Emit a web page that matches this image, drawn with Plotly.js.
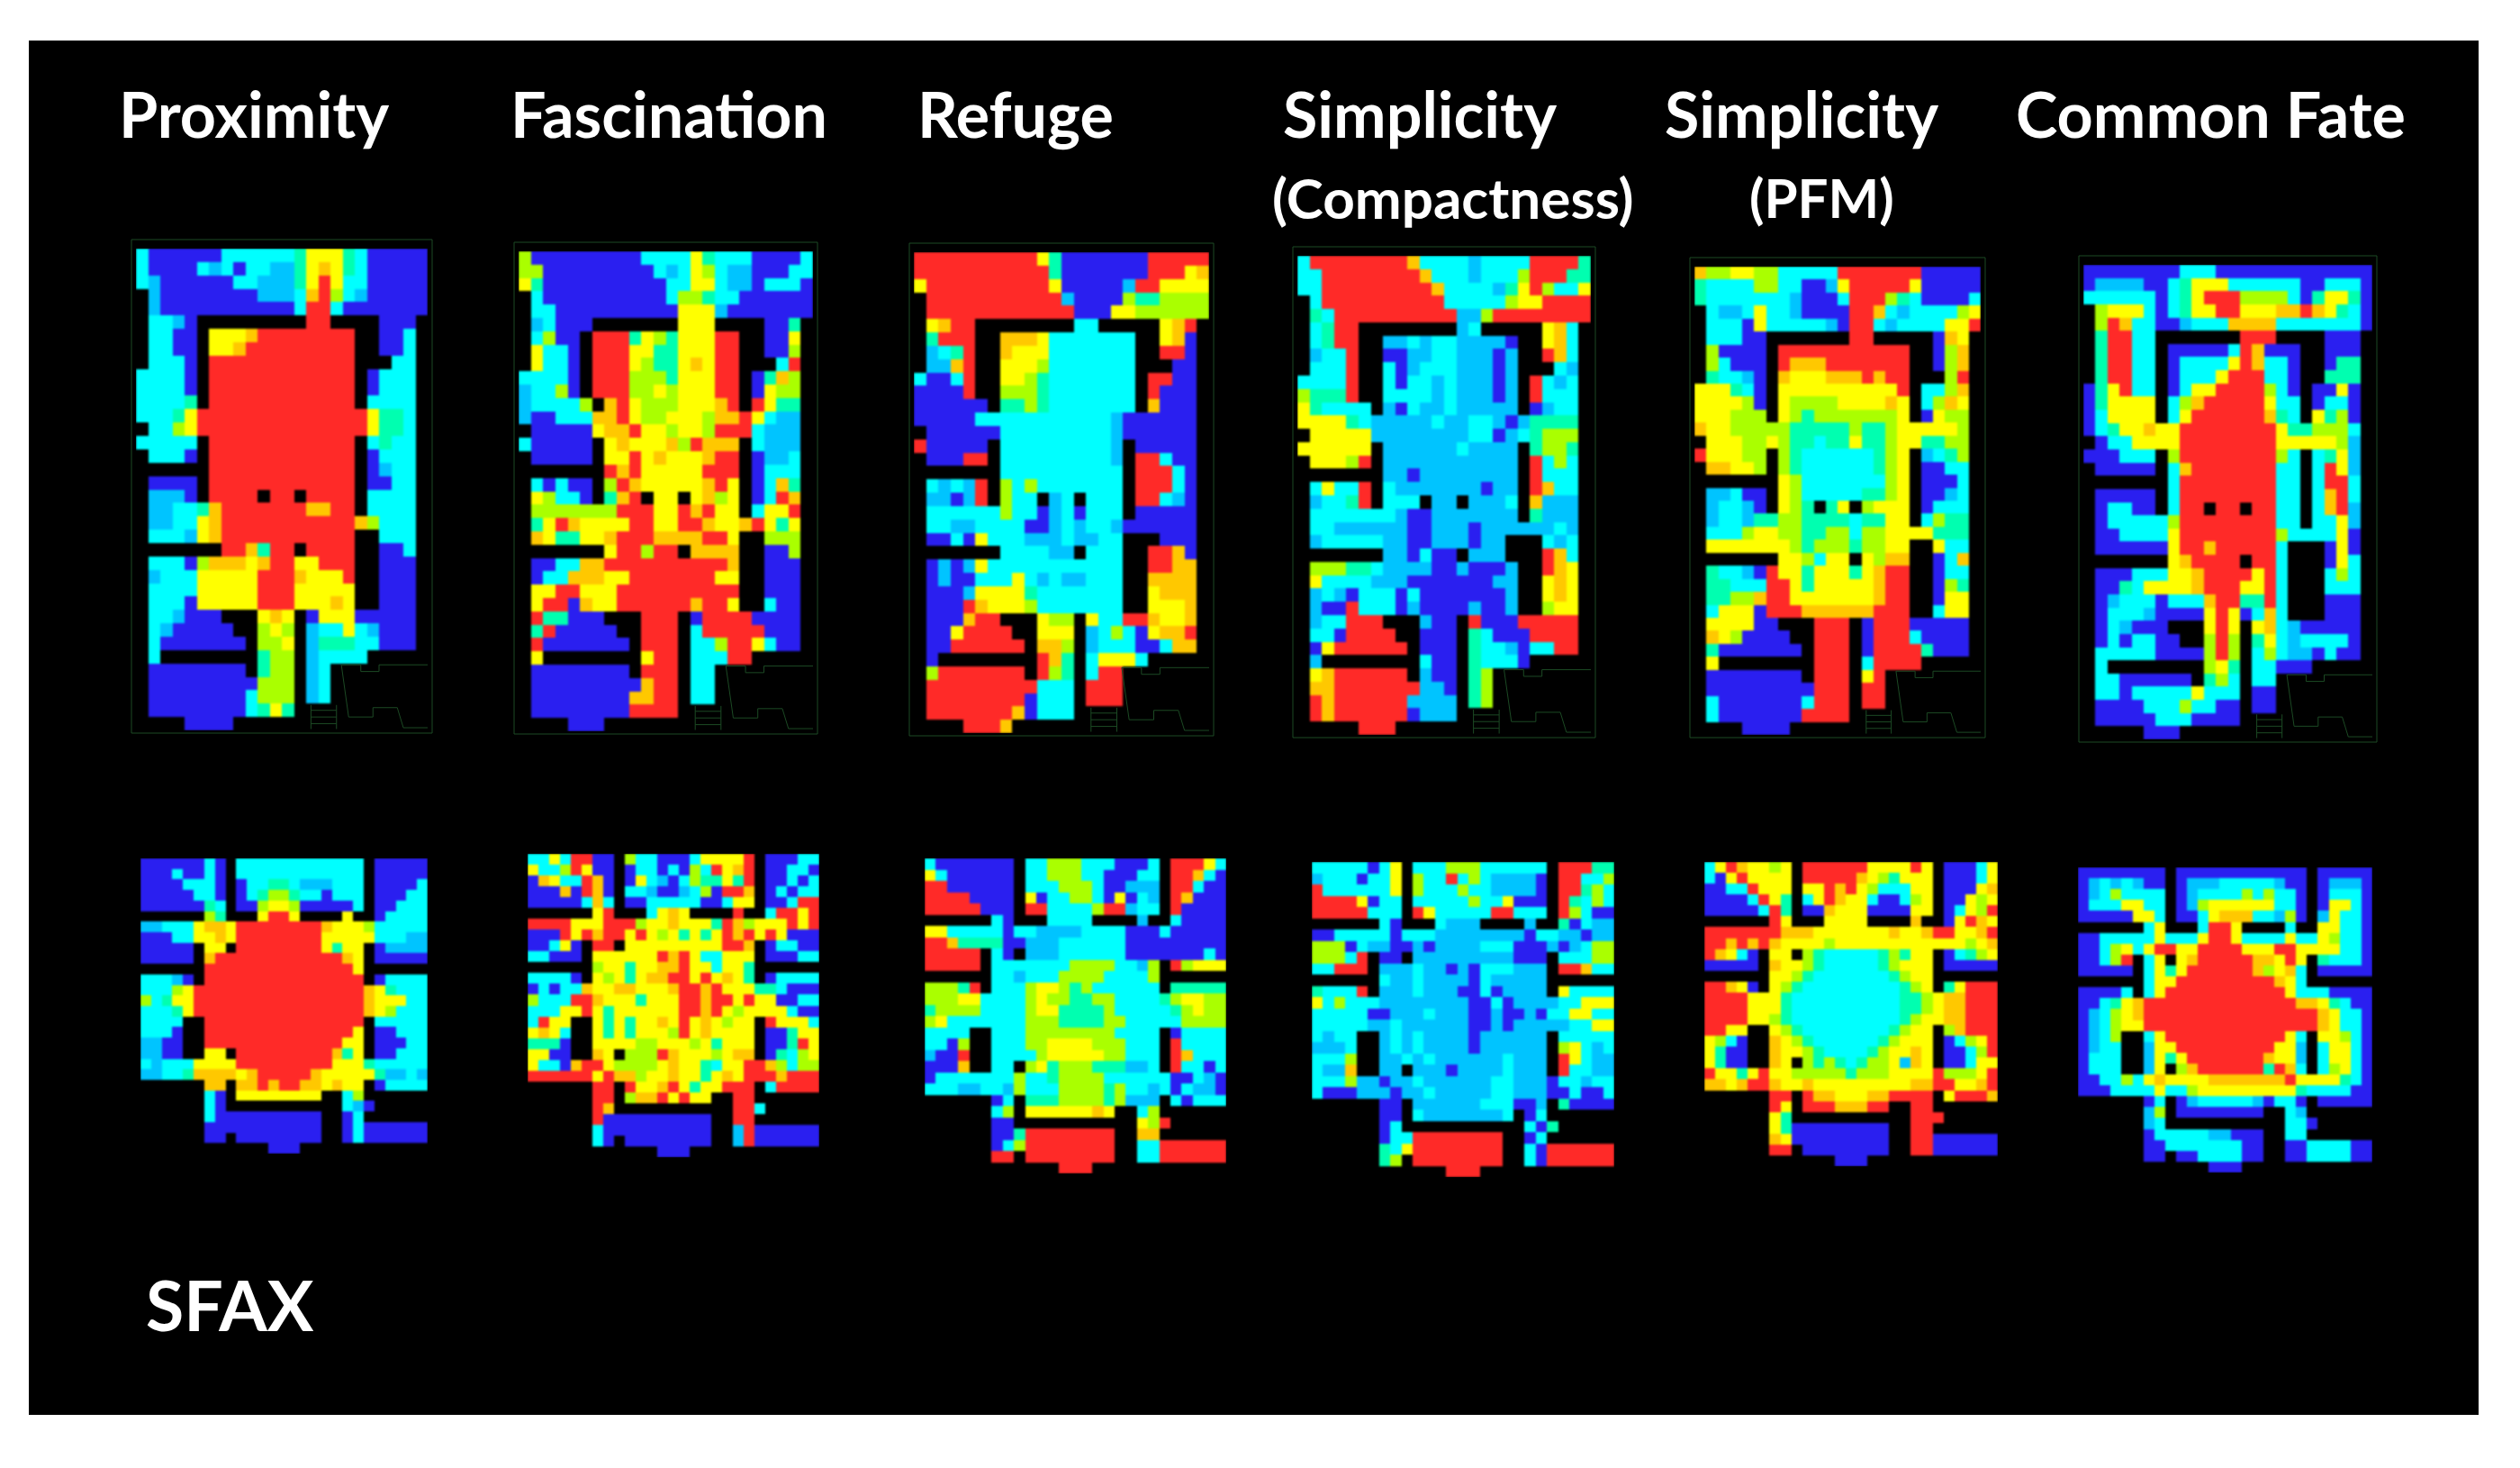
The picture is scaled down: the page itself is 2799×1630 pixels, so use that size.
<!DOCTYPE html>
<html>
<head>
<meta charset="utf-8">
<script src="https://cdn.plot.ly/plotly-3.0.1.min.js"></script>
<style>
  html, body { margin: 0; padding: 0; background: #fff; }
  /* the source maps are soft, scaled-up rasters */
  .heatmaplayer image { filter: blur(0.9px); }
</style>
</head>
<body>
<div id="chart"></div>
<script>
// Cell codes: . wall, b blue, l sky, c cyan, t spring green, g lime, y yellow, o orange, r red
const CODES = ' blctgyor';
const bandColors = ['#2a1ff0', '#00c4ff', '#00ffff', '#00ffb0', '#aaff00', '#ffff00', '#ffc800', '#ff2a28'];

const proximityTop = [
"cbbbbbbcccccctyyytcbbbbb","cbbbbclcbcclltyoytcbbbbb","clbbbbbbccllltyryccbbbbb",".lbbbbbbbblllcorgclbbbbb",
".lbbbbbbbbbbbcrrcbbbbbbb",".cclb.........rr....bbb.",".ccbb.yyyorrrrrrrr..bbc.",".ccbb.yyorrrrrrrrr..bbc.",
".cccb.rrrrrrrrrrrr...cc.","ccccb.rrrrrrrrrrrr.bccc.","ccccb.rrrrrrrrrrrr.bccc.","cccct.rrrrrrrrrrrr.cccc.",
"ccctyrrrrrrrrrrrrrryttc.",".ccgyrrrrrrrrrrrrrryttc.","ccccc.rrrrrrrrrrrr.ctcc.",".cccb.rrrrrrrrrrrr.bccc.",
"......rrrrrrrrrrrr.blcc.",".bbbb.rrrrrrrrrrrr.bbcc.",".lllb.rrrr.rr.rrrr.cccc.",".llcctorrrrrrroorr.cccc.",
".llccyorrrrrrrrrrrogccc.",".ccclyorrrrrrrrrrr..ccc.",".......rrotrr.rrrr..bbc.",".cccbgoooyorryyrrr..bbb.",
".lcccyyyyyrrroyyyr..bbb.",".ccccyyyyyrrryyyyy..bbb.",".cccbyyyyyrrryyyoy..bbb.",".cclbbb...yoy.byyybbbbb.",
".clbbbbb..gyg.lccyclbbb.",".cbbbbbbb.ggy.ltttccbbb.",".c........tgg.lcccc.....",".bbbbbbbb.tgg.lc........",
".bbbbbbbbbggg.lc........",".bbbbbbbbcggg.lc........",".bbbbbbbbctyt...........","....bbbb................"
];
const fascinationTop = [
"gbbbbbbbbbccccytcccbbbbc","ggbbbbbbbbbclcygcllbbbcc","ytbbbbbbbbbbccyycllbcccb",".cbbbbbbbbbbcggtccbbbbbb",
".ccbbbbbbbbbbyyylbbbbbbb",".lcbbb.......yyy....bbt.",".cgbb.rrrtygtyyyrr..bby.",".yccb.rrryyttyyyrr..bbg.",
".yccb.rrrygttyoyrr...cr.","ccccb.rrrgggtyyyrr.btog.","lccgb.rrrggygyyyrr.bygg.","lccccg.orygggyyyor.rytt.",
"lbbcccooryggyyygoorycll.",".bbbbbyooryygyygrrrclll.","cbbbbb.yoyyyogrooo.clll.",".bbbbb.yyryoyyyorr.bllc.",
".......roryyyyyrrr.bccc.",".cbcbb.groyyyyyory.bcot.",".ygccb.tor.yy.yogy.bcro.",".gggggggrrryyroryy.cyyr.",
".tyroyyyyrryyrroyyoryty.",".oyttyyorrroooorry..ggg.",".......yrrgrr.oooo..bbg.",".bbccoorrrrrrrrrro..bbb.",
".bccoooyyrrrrrrryy..bbb.",".yyrryyyrrrrrrrrrr..bbb.",".yrrboyyrrrrrrorry..cbb.",".rttbbb...rrr.brrrrbbbb.",
".trbbbbb..rrr.crrrrrbbb.",".rbbbbbbb.rrr.ccgrrycbb.",".y........yrr.cccrr.....",".bbbbbbbb.rrr.cc........",
".bbbbbbbbborr.cc........",".bbbbbbbboorr.cc........",".bbbbbbbbrrrr...........","....bbb................."
];
const refugeTop = [
"rrrrrrrrrrytbbbbbbbrrrrr","rrrrrrrrrrrtbbbbbbbrrryo","yrrrrrrrrrrybbbbblrryyyy",".rrrrrrrrrrrlbbbbgttgggg",
".rrrrrrrrrrrrbbbyygggggg",".yorr........cc.....yor.",".trrr..oooyccccccc..yob.",".lctr..oyyyccccccc..rrb.",
".llor..yyygccccccc...bb.","cbbcr..yygtccccccc.rrbb.","bbbbr..gggtccccccc.rbbb.","bbbbbb.ttgtccccccc.obbb.",
"bbbbbccccccccccclbbbbbb.",".bbbbbbccccccccclbbbbbb.","rbbbbb.cccccccccl.bbbbb.",".bbbrr.cccccccccl.rrcbb.",
".......cccccccccc.rrrcb.",".clclr.gcgccccccc.rrrcb.",".llblr.gcc.lc.ccc.rrclb.",".ccccccgccblcbccc.bbbbb.",
".ccllccccbblclcclbbbbbb.",".bbcbyccclllcllcc...bbb.",".......ccccll.ccc..rrob.",".blblyccccccccccc..rroo.",
".blbbcccyclcllccc..oooo.",".bbblyyyytccccccc..yooo.",".bbbroyyygccccccc..yyyo.",".bbborr...ygg.yccrroyyo.",
".bbyrrrr..yyy.lcgcbyoor.",".bbrrrrrr.oog.lcccbbcoo.",".b........rot.cyyyc.....",".grrrrrrr.rgt.crr.......",
".rrrrrrrrrccc.rrr.......",".rrrrrrrrbccc.rrr.......",".rrrrrrrobccc...........","....rrro................"
];
const compactnessTop = [
"crrrrrrrrocccclccccrrrrt","ccrrrrrrrroccclcccgrrrtt","ccrrrrrrrrroccccltyrgccy",".crrrrrrrrrrcccccgyyrrrr",
".tcrrrrrrrrrrllgrrrrrrrr",".ctrr........lc.....yoc.",".ctrr..llclccllllb..yoc.",".lccr..bbllcclllbl..roc.",
".cccr..cblccclllbl...cl.","ccccr..cbcclclllbl.rclc.","gtttr..cccclclllbl.rccc.","ytcccc.lbcllclllll.blcc.",
"yyyytclllllcllcclbltttt.",".yyyyyllllllllccblctggg.","yyyyyy.llllllcllll.tggt.",".yyygr.lllllllllll.rcgc.",
".......llbllllllll.rccc.",".cyccr.clllllllbll.rocc.",".lcctr.ccc.ll.lllc.olll.",".ccccccclbblllllll.tlll.",
".ccllllllbblllbllllllcl.",".lcccccllbblllbll...clc.",".......llbcbb.lll...roc.",".gggttcllllbblbbbl..roy.",
".ycccclllbbbbbbbll..yoy.",".lclbcccbcbbbbbbbl..yoy.",".lbbrcccblbbbblbbl..gyy.",".lccrrr...lbb.rbbbrrrrr.",
".ccbrrrr..bbb.tcbbbrrrr.",".byrrrrrr.bbb.tcclbccrr.",".l........cbb.tcccb.....",".yorrrrrr.lbb.tg........",
".oorrrrrrrllb.tg........",".rorrrrrrllll.tg........",".rorrrrrrblll...........",".....rrr................"
];
const pfmTop = [
"oggyyggcccccrrrrrrrbbbbb","tccccggccbblyrrrrrybbbbb","tccccccclbbbcrrrgtcbbbbc",".cllcycclbbbbrroclccccgy",
".cccbyccccclbrrclccccyyr",".cccbb.......rr.....boy.",".gbbbb.rrrrrrrrrrr..bgo.",".gcbbb.rooorrrrrrr..bgo.",
".tcclb.oyyyooororr...gr.","yyytcb.yyyyyyyyyyr.ccgo.","yyyygb.yggggyyyyoy.cgoy.","yyyggg.ygtgggggggy.bygg.",
"oyygggggtttttgttgyyyyyg.",".yyyggygttcttyttgyyttgg.","ryyygg.gtcccccctgy.lctg.",".ooyyg.gtcccccctgy.bbcc.",
".......ygcccccccgy.bbbc.",".llcbb.ygcccccttgy.bblc.",".lcclb.ygt.ty.gyyy.bccc.",".lcclttggttttcttyy.cgtt.",
".cccgyyggttggcggyyyyttt.",".yyyyyyygtgggtggyy..ycc.",".......yygcyy.ygoo..bco.",".tcclbryytyyytyorr..bcc.",
".ttcccrrytyyyyyorr..bgt.",".ttggorryyyyyyyorr..byy.",".cyyybrrroooooorrr..cyy.",".yyyybb...rrr.brrrbbbbb.",
".oygbbbb..rrr.brrrcbbbb.",".tbbbbbbb.rrr.brrrrtbbb.",".y........rrr.crrrr.....",".bbbbbbbb.rrr.yr........",
".bbbbbbbbbrrr.rr........",".cbbbbbbbcrrr.rr........",".cbbbbbbbrrrr...........","....bbbb................"
];
const commonFateTop = [
"bbbbbbbbcccbbbbbbbbbbbbb","bllllbbctyyyccccccbbcccb","ccccccbctyrrrggggcbtyytb",".gyyycbctyyrryyyooroytcb",
".groccbblcccoooocccccccb",".trrcc.......rrr....bbb.",".trrcc.bbbbbcrobbb..bbb.",".trrcc.bccccyroccb..btt.",
".trrcc.bcccyrrrccb..ttt.","btyrcc.bcyyrrrrgcb.bbyb.","btyyyy.cgorrrrrycc.bccb.","bcyyyy.cyrrrrrrotc.ytgb.",
"bctyyoyyrrrrrrrryttgggc.",".bccyyyyrrrrrrrryyyyygl.","bbbccc.grrrrrrrrgc.ctyl.",".bbbbb.corrrrrrrcc.cryl.",
".......crrrrrrrrcc.crrc.",".bbbbb.crrrrrrrrcc.corc.",".bccbb.crr.rr.rrcc.corl.",".bcccccgrrrrrrrrcc.ccyl.",
".bbccccyrrrrrrrrgccccyb.",".bbbbbbyrrorrrrrc...byb.",".......yorrrr.rrc...byc.",".bbbcccyyorrrryrc...cgc.",
".bbtcyyyyorrryyrc...ccc.",".blcccbcccorrttrc...bbb.",".bccclbbbbyrybcoc...bbb.",".bclbbb...yry.yoclbbbbb.",
".bcbccbb..grg.tyclccccb.",".cccccbbbbgrg.cgcllbcbb.",".c........gyt.ccbbb.....",".ccbbbbbb.tgc.cc........",
".ccbcccccyccc.bb........",".bbbbcccgccbb.bb........",".bbbbbcccbbbb...........",".....bbb................"
];

const proximityBottom = [
"bbbbbbcb.cccccccccccc.bbbbb","bbbcbbcb.cccccccccccc.bbbbb","bbbbcccb.bccttclllccc.bbbbc","bbbbbccb.bctggtccbccc.bbbcc",
"bbbbbbtc.bbgyygbbbbbc.bbccc","......gt...yrry....y..bcccc","llcccyooyrrrrrrrroyyygccccc","bbbccyyoyrrrrrrrryyyyycccll",
"bbbbb.yy.rrrrrrrrytyy.bllll","bbbbb.orrrrrrrrrrrroy.bbbbb","......rrrrrrrrrrrrrry......","ccclb.rrrrrrrrrrrrrrr.bcccc",
"cccgyrrrrrrrrrrrrrrrroytccc","gctyyrrrrrrrrrrrrrrrroyyycc","ccctyrrrrrrrrrrrrrrrroygccc","cccc..rrrrrrrrrrrrrrr.ccccc",
"cccb..rrrrrrrrrrrrrry.bbccc","llbb..rrrrrrrrrrrrryy.bbbcc","llbb..yy.rrrrrrrrroty.bbccc","clcccyyyyrrrrrrrrryyytccccc",
"llcctooooyorrrrroyyyyytllcl","......oo.oororrooyoyy.bcccc","......cb.yyyyyyyy..cg......","......cb...........clb.....",
"......cbbbbbbbbbb..bc......","......bbbbbbbbbbb..bcbbbbbb","......bb.bbbbbbbb..bcbbbbbb","............bbb............"
];
const fascinationBottom = [
"ccycrrbb.gccbbbcyyyyr.bbbcc","yccgrybb.bccbcbgcryor.bbccb","boyccrob.byclbcgttytr.bbcbc","bbbobrob.cclbblcgbrro.bcbcc",
"bbbbbcoc.bbcccccbbcyy.bbcrr","......yr...cyoy....r..crryr","rrrryyyrrrgyyoyyytrogyyyryr","bbbryrorryrygytytyroryrybbb",
"bbcyb.rr.yyyyyyyyyrro.bccbb","ccbbb.yyyyyyroryccyyy.bbbcc","......gyytyyooryycyyt......","ccccb.ygytyoorryryoyt.bcccc",
"bcbccoyyooyyyorroryyyttcbbb","gcccrroyyytyyyrrorryryybbcc","cccyyrytyyyyyyrrorygyyyycbb","cryy..ytytyyoyryoygyy.ryyyc",
"yoyc..ytytyyygryoyyyy.bbtyy","tttb..yyyyggyyygytyyy.bbtry","yybb..oy.gggroyyygyoo.btcgy","yccborryggggyoyytcyyrrogcgg",
"rrrrrryroogyyoyytyoyrrrorrr","......rr.ryyorytyyrrr.crrrr","......rr.gooryryy..rr......","......ro...........rrc.....",
"......rbbbbbbbbbb..rr......","......cbbbbbbbbbb..lrbbbbbb","......cb.bbbbbbbb..lrbbbbbb","............bbb............"
];
const refugeBottom = [
"cbbbbbbb.ccgggcccbbbc.rrryc","ycbbbbbb.ccgggccbbbcc.rrocb","rrbbbbbb.cccgggcbblll.rrcbb","rrrrbbbb.ybccggcbybcl.robbb",
"rrrrrbbb.rrccccgrrlcc.rbbbb","......cb...cccc....l..cbbbb","yycccccbccllllccccbbbcbbbbb","rrottttbblllccccccbbbbbbbbb",
"rrrrr.cb.lllccccccbbbbbbbcb","rrrrr.cccccccggggcclg.rgyyy","......cclcccggggccccg......","gggtr.cccgyygtgcccccc.ttttt",
"gggyyccccgyggttggcccctgyygg","tggggccccgyyttttgccccctgygg","gycccccccgggttttggcccccgggg","cccc..cccggggggggcccc.bcccc",
"ccbg..cccggyyyygggccc.rcccc","lbbr..ccccgyyyyyggccc.roccc","bbbo..cc.gytgggtttllc.rccbc","bcccccccgcctggggccccccbbclb",
"cccllcclgcccggggtgcclcbcllb","......bc.tttggggtglll.cbccc","......cg.yyyyyyoy..cg......","......bb...........ygr.....",
"......bbtrrrrrrrr..oo......","......bcgrrrrrrrr..ccrrrrrr","......rr.rrrrrrrr..ccrrrrrr","............rrr............"
];
const compactnessBottom = [
"cccccbcy.cccgggcccccc.rrrtt","lcccbccy.gccrcgcllllb.rrccg","rccccccy.gcccgccllllb.rrtgc","rrrrybcc.cccccgccybbb.rtcgc",
"rrrrrccc.rycccccrrccc.rgcbb","......cb...clll....l..tbcll","bbcccccbcccllllllllbccllbll","gggbcllbblbllllcccbbblblcgg",
"gggcr.bb.lllllllllbbb.cccgg","ccrrr.lllcllblbccclll.rrocc","......cllcllllbclllll......","tcccr.lllclllbbcbllll.ycccc",
"ycgcccllllllllbbcbllllccyyy","cccccbblllclllbblbblbccyycc","cccccllcllllllbblblllllccyy","clcc..lclcllllbllllll.ccccc",
"lllc..lclcllllbllllll.gyclc","cccg..llclcllllllclll.rycll","cllo..ll.lllbllllclll.rccll","cccgllbllcllllllcclllbcclcc",
"cbbblllbllclllllcclllbbcbbc","......bb.llllllcccbbl.tbbbb","......bb.clllllllc.bc......","......bc...........cbt.....",
"......bccrrrrrrrr..bc......","......tcyrrrrrrrr..cbrrrrrr","......tg.rrrrrrrr..cbrrrrrr","............rrr............"
];
const pfmBottom = [
"cyroyygy.rrrrrryyyyry.bbbcy","cbyryyyy.rrrrroygtyyy.bbbcy","bbccryyy.yyrorygcccyy.bbbyo","bbbbcryt.cyroyycbbcgy.bbygy",
"bbbbbcrt.bboyyybbbbyy.bcygr","......ry...yyyy....o..byroy","rrrrrrroooyyyyyyyoyyorryyor","rrororoyyyygyyyyyyyyyyyygyo",
"roycb.yy.gtccccctgtyy.bctgy","bbbbb.oyygtccccctgyyy.bbbbb","......yygtccccccctgyy......","rroyb.ygtccccccccctgy.tyrrr",
"rrrryyytccccccccccttgyoorrr","rrrryyytccccccccccttgyoorrr","rrrryygtcccccccccctgyyoorrr","rryy..ygtcccccccctgyy.gorrr",
"ygcb..oygtcccccctgyyy.bcgyr","ytbb..oyygtcccctgyyoy.bbcgr","ytbb..oy.gtgtctggyloy.bbcyy","ryytyryygggggtgggyyyyrgggyr",
"ooyorroyyoyyyyyyyyyoorryyor","......rr.rooyyyoorrrr.yrrro","......ry.rrrooorr..rr......","......yt...........rrr.....",
"......ytbbbbbbbbb..rr......","......oybbbbbbbbb..rrbbbbbb","......rr.bbbbbbbb..rrbbbbbb","............bbb............"
];
const commonFateBottom = [
"bbbbbbbb.bbbbbbbbbbbb.bbbbb","blclclbb.blllccccclbb.blllb","blcgcccc.blccccgcgccb.bcccb","bcccyycc.blgyyyyyyccb.byycb",
"bbbbbyyc.bbcyooocclgb.lyccb","......cy...crry....c..yyccb","bbcccccycccyrryccccyccygccb","bbcgycyrryyrrrryyyrryyyyccb",
"bbcgr.cy.yorrrrrooyry.tcccb","bbbbb.cytyrrrrrrogyoc.bbbbb","......cyyrrrrrrrrroyc......","bbbbc.cyrrrrrrrrrrrycccbbbb",
"bbctyorrrrrrrrrrrrrrooytcbb","blcgyorrrrrrrrrrrrrrrroyccb","blcgyyrrrrrrrrrrrrrrrroyccb","blcg..cyrrrrrrrrrrryc.yygcb",
"blcc..lyyrrrrrrrrryyl.cyycb","bccc..lytyrrrrrrroyyl.cyycb","bccc..ly.gorrrrrrtroc.cgycb","bbccgcyoyyyyoooooooryyyytcb",
"bbbccccyccgyyyyyyyyytccccbb","......bc.blccccclbccb.bbbbb","......lg.bbbbbbbb..cl......","......lc...........ccb.....",
"......bcccccllbbb..cc......","......bbcccccccbb..bbccccbb","......bb.bbccccbb..bbccccbb","............bbb............"
];

const WIDTH = 2799;
const HEIGHT = 1630;

// Placement of each map on the page, in pixels: grid, x0, x1, y0, y1
const panels = [
    [proximityTop, 151, 475, 276, 811],
    [fascinationTop, 576, 903, 279, 812],
    [refugeTop, 1015, 1343, 280, 814],
    [compactnessTop, 1441, 1767, 284, 816],
    [pfmTop, 1882, 2200, 296, 816],
    [commonFateTop, 2314, 2635, 294, 821],
    [proximityBottom, 156, 475, 953, 1281],
    [fascinationBottom, 586, 910, 948, 1285],
    [refugeBottom, 1027, 1362, 953, 1303],
    [compactnessBottom, 1457, 1793, 957, 1307],
    [pfmBottom, 1893, 2219, 957, 1295],
    [commonFateBottom, 2308, 2635, 963, 1302],
];

const titles = [
    ['Proximity', 282, 126, 70],
    ['Fascination', 743, 126, 70],
    ['Refuge', 1128, 126, 70],
    ['Simplicity', 1577, 126, 70],
    ['(Compactness)', 1614, 219, 62],
    ['Simplicity', 2001, 126, 70],
    ['(PFM)', 2023, 219, 60],
    ['Common Fate', 2455, 126, 70],
    ['SFAX', 255, 1448, 77],
];

// Annex room and stair lines of the floor plan, in grid cells of the upper maps
const annexPlan = 'M 16.4 30.6 L 18 30.6 L 18 31.1 L 19.5 31.1 L 19.5 30.6 L 23.6 30.6 L 23.6 35.3 L 21.5 35.3 L 21 33.8 L 19 33.8 L 19 34.5 L 17 34.5 L 16.4 30.6 '
    + 'M 13.9 34 L 16 34 M 13.9 34.5 L 16 34.5 M 13.9 35 L 16 35 M 13.9 33.6 L 13.9 35.4 M 16 33.6 L 16 35.4';

function gridToZ(grid) {
    return grid.map((row) => Array.from(row).map((ch) => {
        const code = CODES.indexOf(ch);
        return code > 0 ? code : null;
    }));
}

function buildColorscale() {
    const scale = [];
    const n = bandColors.length;
    bandColors.forEach((color, i) => {
        scale.push([i / n, color]);
        scale.push([(i + 1) / n, color]);
    });
    return scale;
}

function drawChart() {
    const traces = [];
    const layout = {
        width: WIDTH,
        height: HEIGHT,
        margin: { l: 0, r: 0, t: 0, b: 0 },
        paper_bgcolor: '#ffffff',
        plot_bgcolor: '#000000',
        showlegend: false,
        shapes: [{
            type: 'rect', xref: 'paper', yref: 'paper', layer: 'below',
            x0: 32 / WIDTH, x1: 2753 / WIDTH, y0: 1 - 1571 / HEIGHT, y1: 1 - 45 / HEIGHT,
            fillcolor: '#000000', line: { width: 0 },
        }],
        annotations: [],
    };
    const colorscale = buildColorscale();

    panels.forEach(([grid, x0, x1, y0, y1], i) => {
        const suffix = i === 0 ? '' : String(i + 1);
        const z = gridToZ(grid);
        traces.push({
            type: 'heatmap',
            z: z,
            xaxis: 'x' + suffix,
            yaxis: 'y' + suffix,
            colorscale: colorscale,
            zmin: 0.5,
            zmax: bandColors.length + 0.5,
            showscale: false,
            hoverinfo: 'skip',
        });
        layout['xaxis' + suffix] = {
            domain: [x0 / WIDTH, x1 / WIDTH],
            range: [-0.5, z[0].length - 0.5],
            visible: false,
            anchor: 'y' + suffix,
        };
        layout['yaxis' + suffix] = {
            domain: [1 - y1 / HEIGHT, 1 - y0 / HEIGHT],
            range: [z.length - 0.5, -0.5],
            visible: false,
            anchor: 'x' + suffix,
        };
        // thin plan outline round the upper maps
        if (i < 6) {
            layout.shapes.push({
                type: 'rect', xref: 'paper', yref: 'paper',
                x0: (x0 - 5) / WIDTH, x1: (x1 + 5) / WIDTH,
                y0: 1 - (y1 + 3) / HEIGHT, y1: 1 - (y0 - 10) / HEIGHT,
                line: { color: '#1c4a24', width: 1 },
            });
            layout.shapes.push({
                type: 'path', xref: 'x' + suffix, yref: 'y' + suffix,
                path: annexPlan,
                line: { color: '#1c4a24', width: 1 },
            });
        }
    });

    for (const [text, x, y, size] of titles) {
        layout.annotations.push({
            text: text,
            xref: 'paper', yref: 'paper',
            x: x / WIDTH, y: 1 - y / HEIGHT,
            xanchor: 'center', yanchor: 'middle',
            showarrow: false,
            font: { family: 'Lato, "Open Sans", sans-serif', size: size, color: '#ffffff', weight: 700 },
        });
    }

    Plotly.newPlot('chart', traces, layout, { displayModeBar: false, staticPlot: true });
}

drawChart();
</script>
</body>
</html>
